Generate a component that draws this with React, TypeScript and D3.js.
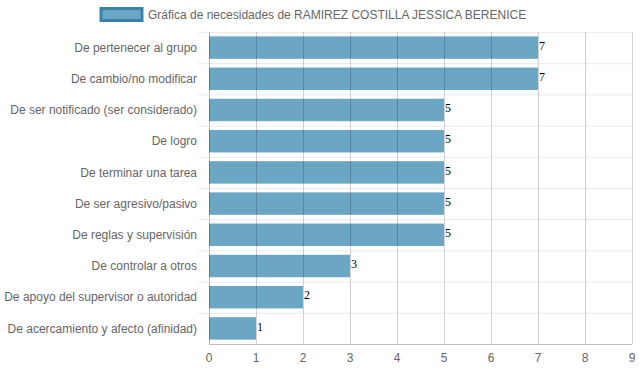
import React, { useEffect, useRef } from "react";
import * as d3 from "d3";

const categories = [
  "De pertenecer al grupo",
  "De cambio/no modificar",
  "De ser notificado (ser considerado)",
  "De logro",
  "De terminar una tarea",
  "De ser agresivo/pasivo",
  "De reglas y supervisión",
  "De controlar a otros",
  "De apoyo del supervisor o autoridad",
  "De acercamiento y afecto (afinidad)",
];
const values = [7, 7, 5, 5, 5, 5, 5, 3, 2, 1];
const xTicks = [0, 1, 2, 3, 4, 5, 6, 7, 8, 9];
const seriesName = "Gráfica de necesidades de RAMIREZ COSTILLA JESSICA BERENICE";

const App = () => {
  const ref = useRef<SVGSVGElement>(null);

  useEffect(() => {
    const svg = d3.select(ref.current);
    svg.selectAll("*").remove();

    const width = 639;
    const height = 372;
    const left = 209;
    const right = 632;
    const top = 32;
    const bottom = 344;
    const font = "Liberation Sans, Arial, sans-serif";
    const barColor = "#6ca6c5";

    const x = d3.scaleLinear().domain([0, 9]).range([left, right]);
    const y = d3.scaleBand().domain(categories).range([top, bottom]);
    const barH = y.bandwidth() * 0.72;

    svg.attr("width", width).attr("height", height);

    // leyenda
    svg
      .append("rect")
      .attr("x", 101)
      .attr("y", 8.5)
      .attr("width", 41)
      .attr("height", 12)
      .attr("fill", barColor)
      .attr("stroke", "#3a80ab")
      .attr("stroke-width", 3);
    svg
      .append("text")
      .attr("x", 148)
      .attr("y", 14.5)
      .attr("dy", "0.35em")
      .attr("font-family", font)
      .attr("font-size", 12)
      .attr("fill", "#666")
      .text(seriesName);

    // lineas horizontales entre categorias
    const bounds = categories.map((c) => y(c)!).concat([bottom]);
    svg
      .selectAll("line.hgrid")
      .data(bounds.slice(0, -1))
      .enter()
      .append("line")
      .attr("x1", left - 11)
      .attr("x2", right)
      .attr("y1", (d) => d + 0.5)
      .attr("y2", (d) => d + 0.5)
      .attr("stroke", "#ebebeb")
      .attr("stroke-width", 1);

    // barras
    svg
      .selectAll("rect.bar")
      .data(values)
      .enter()
      .append("rect")
      .attr("x", x(0))
      .attr("y", (d, i) => y(categories[i])! + (y.bandwidth() - barH) / 2)
      .attr("width", (d) => x(d) - x(0))
      .attr("height", barH)
      .attr("fill", barColor);

    // lineas verticales (encima de las barras)
    svg
      .selectAll("line.vgrid")
      .data(xTicks.slice(1))
      .enter()
      .append("line")
      .attr("x1", (d) => Math.round(x(d)) + 0.5)
      .attr("x2", (d) => Math.round(x(d)) + 0.5)
      .attr("y1", top)
      .attr("y2", bottom)
      .attr("stroke", "rgba(0,0,0,0.18)")
      .attr("stroke-width", 1);

    // ejes
    svg
      .append("line")
      .attr("x1", left + 0.5)
      .attr("x2", left + 0.5)
      .attr("y1", top)
      .attr("y2", bottom)
      .attr("stroke", "rgba(0,0,0,0.25)");
    svg
      .append("line")
      .attr("x1", left)
      .attr("x2", right)
      .attr("y1", bottom + 0.5)
      .attr("y2", bottom + 0.5)
      .attr("stroke", "rgba(0,0,0,0.25)");

    // etiquetas de categorias
    svg
      .selectAll("text.cat")
      .data(categories)
      .enter()
      .append("text")
      .attr("x", left - 12)
      .attr("y", (d) => y(d)! + y.bandwidth() / 2)
      .attr("dy", "0.35em")
      .attr("text-anchor", "end")
      .attr("font-family", font)
      .attr("font-size", 12)
      .attr("fill", "#666")
      .text((d) => d);

    // etiquetas eje x
    svg
      .selectAll("text.tick")
      .data(xTicks)
      .enter()
      .append("text")
      .attr("x", (d) => x(d))
      .attr("y", bottom + 14)
      .attr("dy", "0.35em")
      .attr("text-anchor", "middle")
      .attr("font-family", font)
      .attr("font-size", 12)
      .attr("fill", "#666")
      .text((d) => d);

    // valores
    svg
      .selectAll("text.val")
      .data(values)
      .enter()
      .append("text")
      .attr("x", (d) => x(d) + 1)
      .attr("y", (d, i) => y(categories[i])! + y.bandwidth() / 2 - 2)
      .attr("dy", "0.35em")
      .attr("font-family", "Liberation Serif, Times New Roman, serif")
      .attr("font-size", 12)
      .attr("fill", "#000")
      .text((d) => d);
  }, []);

  return <svg ref={ref} style={{ position: "absolute", left: 0, top: 0 }} />;
};

export default App;
